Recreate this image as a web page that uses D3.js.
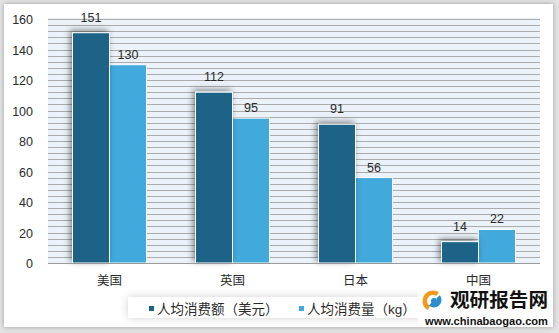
<!DOCTYPE html>
<html><head><meta charset="utf-8">
<script src="https://cdn.jsdelivr.net/npm/d3@7"></script>
<style>
html,body{margin:0;padding:0;background:#e3e3e3;}
svg{display:block;}
text{font-family:"Liberation Sans","Noto Sans CJK SC",sans-serif;}
</style></head>
<body>
<svg id="c" width="559" height="333"></svg>
<script>
const categories = ["美国","英国","日本","中国"];
const seriesNames = ["人均消费额（美元）","人均消费量（kg）"];
const spendUSD = [151,112,91,14];
const volumeKg = [130,95,56,22];
const yTicks = [0,20,40,60,80,100,120,140,160];
const colors = ["#1b6487","#41a9db"];

const svg = d3.select("#c");
const defs = svg.append("defs");
const f = defs.append("filter").attr("id","sh").attr("x","-50%").attr("y","-50%").attr("width","200%").attr("height","200%");
f.append("feDropShadow").attr("dx",-2).attr("dy",-2).attr("stdDeviation",3).attr("flood-color","#000").attr("flood-opacity",0.45);
const f2 = defs.append("filter").attr("id","panel").attr("x","-10%").attr("y","-10%").attr("width","120%").attr("height","120%");
f2.append("feDropShadow").attr("dx",0).attr("dy",0).attr("stdDeviation",2.5).attr("flood-color","#000").attr("flood-opacity",0.3);
const f3 = defs.append("filter").attr("id","leg").attr("x","-20%").attr("y","-80%").attr("width","140%").attr("height","260%");
f3.append("feDropShadow").attr("dx",0).attr("dy",0).attr("stdDeviation",4).attr("flood-color","#000").attr("flood-opacity",0.18);

// panel
svg.append("rect").attr("x",4).attr("y",4).attr("width",549).attr("height",323).attr("fill","#fff").attr("filter","url(#panel)");

const m = {l:48, r:540, t:19, b:263};
const x0 = d3.scaleBand().domain(categories).range([m.l, m.r]);
const x1 = d3.scaleBand().domain([0,1]).range([-37, 37]);
const y = d3.scaleLinear().domain([0,160]).range([m.b, m.t]);

// plot background
svg.append("rect").attr("x",m.l).attr("y",m.t-1).attr("width",m.r-m.l).attr("height",m.b-m.t+1).attr("fill","#ebf2f9");
// minor grid every 4
svg.append("g").selectAll("line").data(d3.range(4,161,4)).join("line")
  .attr("x1",m.l).attr("x2",m.r).attr("y1",d=>Math.round(y(d))+0.5).attr("y2",d=>Math.round(y(d))+0.5)
  .attr("stroke","#ababab").attr("stroke-width",1);

// y axis
const yAxis = d3.axisLeft(y).tickValues(yTicks).tickSize(0).tickPadding(0);
const gy = svg.append("g").attr("transform",`translate(33,0)`).call(yAxis);
gy.select(".domain").remove();
gy.selectAll("text").attr("font-size",12.5).attr("fill","#2a2a2a").attr("dy","0.36em");

const data = categories.map((c,i)=>({c, v:[spendUSD[i], volumeKg[i]]}));
const groups = svg.append("g").selectAll("g").data(data).join("g")
  .attr("transform",d=>`translate(${x0(d.c)+x0.bandwidth()/2},0)`);
[1,0].forEach(s=>{
  groups.append("rect")
    .attr("x",x1(s)).attr("width",x1.bandwidth())
    .attr("y",d=>y(d.v[s])).attr("height",d=>y(0)-y(d.v[s]))
    .attr("fill",colors[s]).attr("stroke","#fff").attr("stroke-width",1)
    .attr("filter", s===0 ? "url(#sh)" : null);
});
const labOff = [11,6];
[0,1].forEach(s=>{
  groups.append("text")
    .attr("x",x1(s)+x1.bandwidth()/2).attr("y",d=>y(d.v[s])-labOff[s])
    .attr("text-anchor","middle").attr("font-size",12.5).attr("fill","#2a2a2a")
    .text(d=>d.v[s]);
});

// x axis
const xAxis = d3.axisBottom(x0).tickSize(0).tickPadding(0);
const gx = svg.append("g").attr("transform",`translate(0,${m.b})`).call(xAxis);
gx.select(".domain").attr("stroke","#9a9a9a").attr("d",`M${m.l},0.5H${m.r}`);
gx.selectAll("text").attr("font-size",12.5).attr("fill","#2a2a2a").attr("y",22).attr("dy",0)
  .attr("font-family","Noto Sans CJK SC");

// legend
const lg = svg.append("g");
lg.append("rect").attr("x",128).attr("y",297).attr("width",300).attr("height",21).attr("fill","#fff").attr("filter","url(#leg)");
const lx = [149,299];
seriesNames.forEach((n,i)=>{
  lg.append("rect").attr("x",lx[i]).attr("y",306).attr("width",5).attr("height",5).attr("fill",colors[i]);
  lg.append("text").attr("x",lx[i]+8).attr("y",314).attr("font-size",13.5).attr("fill","#2a2a2a")
    .attr("font-family","Noto Sans CJK SC").text(n);
});

// watermark logo
const wm = svg.append("g");
wm.append("rect").attr("x",418).attr("y",288).attr("width",134).attr("height",38).attr("fill","#fff");
wm.append("path").attr("d",d3.arc()({innerRadius:6,outerRadius:10.5,startAngle:-2.6,endAngle:0.6})).attr("transform","translate(433,301)").attr("fill","#f39a1c");
wm.append("path").attr("d",d3.arc()({innerRadius:3,outerRadius:7.5,startAngle:0.9,endAngle:3.9})).attr("transform","translate(434,300)").attr("fill","#2a8fd0");
wm.append("path").attr("d",d3.arc()({innerRadius:0,outerRadius:3,startAngle:0,endAngle:6.3})).attr("transform","translate(434,301)").attr("fill","#2a8fd0");
wm.append("text").attr("x",450).attr("y",307).attr("font-size",19).attr("font-weight","bold")
  .attr("font-family","Noto Sans CJK SC").attr("textLength",98).attr("lengthAdjust","spacingAndGlyphs").attr("fill","#111").text("观研报告网");
wm.append("text").attr("x",425).attr("y",324.5).attr("font-size",11).attr("font-weight","bold")
  .attr("font-family","DejaVu Sans").attr("textLength",123).attr("lengthAdjust","spacingAndGlyphs").attr("fill","#111").text("www.chinabaogao.com");
</script>
</body></html>
